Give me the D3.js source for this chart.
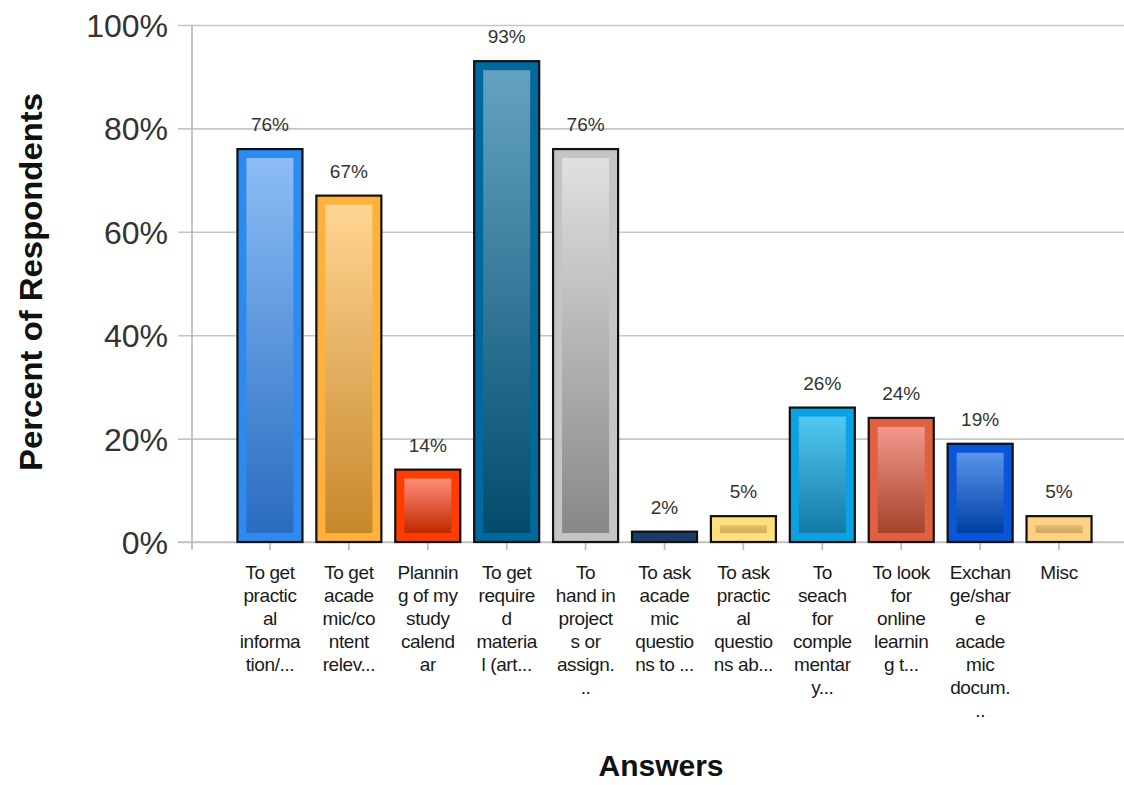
<!DOCTYPE html>
<html lang="en">
<head>
<meta charset="UTF-8">
<title>Percent of Respondents by Answer</title>
<script src="https://d3js.org/d3.v7.min.js"></script>
<style>
    body { margin: 0; background: #fff; }
    svg { display: block; font-family: "Liberation Sans", Arial, sans-serif; }
</style>
</head>
<body>
<svg width="1124" height="785"></svg>
<script>
// chart data
const categories = ["c1", "c2", "c3", "c4", "c5", "c6", "c7", "c8", "c9", "c10", "c11"];
const categoryLines = [
    ["To get", "practic", "al", "informa", "tion/..."],
    ["To get", "acade", "mic/co", "ntent", "relev..."],
    ["Plannin", "g of my", "study", "calend", "ar"],
    ["To get", "require", "d", "materia", "l (art..."],
    ["To", "hand in", "project", "s or", "assign.", ".."],
    ["To ask", "acade", "mic", "questio", "ns to ..."],
    ["To ask", "practic", "al", "questio", "ns ab..."],
    ["To", "seach", "for", "comple", "mentar", "y..."],
    ["To look", "for", "online", "learnin", "g t..."],
    ["Exchan", "ge/shar", "e", "acade", "mic", "docum.", ".."],
    ["Misc"]
];
const percents = [76, 67, 14, 93, 76, 2, 5, 26, 24, 19, 5];
const yTicks = [0, 20, 40, 60, 80, 100];

// bar colours: outer fill, inner gradient top, inner gradient bottom
const outerColors = ["#2b8bf0", "#ffb13c", "#ff3d00", "#00689a", "#c4c4c4", "#1c3d6b",
                     "#ffe07c", "#0aa2e2", "#e0613f", "#0a55d8", "#ffd283"];
const innerTop    = ["#8cbdf6", "#ffd593", "#ff8e7a", "#64a2c2", "#e0e0e0", "#2c5080",
                     "#e2c26c", "#52c8f2", "#f2998c", "#5a94ea", "#e0bc72"];
const innerBottom = ["#296cc0", "#c7882c", "#c02800", "#034b6c", "#888888", "#14304f",
                     "#d3ae58", "#137aa6", "#a6432c", "#0040a6", "#cfa65c"];

const svg = d3.select("svg"),
      W = +svg.attr("width");

const x = d3.scaleBand()
    .domain(categories)
    .range([230.5, 1098.5])
    .paddingInner(0.176)
    .paddingOuter(0.088);

const y = d3.scaleLinear().domain([0, 100]).range([542, 25]);

// gridlines
svg.append("g")
    .attr("transform", "translate(178,0)")
    .call(d3.axisLeft(y).tickValues(yTicks).tickSize(-(W - 178)).tickFormat(""))
    .call(g => g.select(".domain").remove())
    .call(g => g.selectAll("line").attr("stroke", "#c6c6c6").attr("stroke-width", 1.6));

// y axis labels
svg.append("g")
    .attr("transform", "translate(192,0)")
    .call(d3.axisLeft(y).tickValues(yTicks).tickSize(0).tickPadding(24).tickFormat(d => d + "%"))
    .call(g => g.select(".domain").remove())
    .call(g => g.selectAll("text")
        .attr("font-family", "'Liberation Sans', Arial, sans-serif")
        .attr("font-size", 32)
        .attr("fill", "#333")
        .attr("dy", "0.36em"));

// y axis line
svg.append("line")
    .attr("x1", 192).attr("x2", 192)
    .attr("y1", y(100)).attr("y2", y(0) + 8)
    .attr("stroke", "#b8b8b8").attr("stroke-width", 1.6);

// x axis
const xAxis = svg.append("g")
    .attr("transform", `translate(0,${y(0)})`)
    .call(d3.axisBottom(x).tickSize(8).tickPadding(12));
xAxis.select(".domain").remove();
xAxis.selectAll("line").attr("stroke", "#b8b8b8").attr("stroke-width", 1.6);
xAxis.selectAll(".tick text")
    .attr("font-family", "'Liberation Sans', Arial, sans-serif")
    .attr("font-size", 19)
    .attr("fill", "#1a1a1a")
    .attr("letter-spacing", -0.4)
    .attr("dy", null)
    .attr("y", 0)
    .text(null)
    .each(function(d, i) {
        const t = d3.select(this);
        categoryLines[categories.indexOf(d)].forEach((line, j) => {
            t.append("tspan").attr("x", 0).attr("y", 37 + j * 23).text(line);
        });
    });

svg.append("line")
    .attr("x1", 178).attr("x2", W)
    .attr("y1", y(0)).attr("y2", y(0))
    .attr("stroke", "#c0c0c0").attr("stroke-width", 1.6);

// gradients
const defs = svg.append("defs");
categories.forEach((c, i) => {
    const grad = defs.append("linearGradient")
        .attr("id", "grad" + i)
        .attr("x1", 0).attr("y1", 0).attr("x2", 0).attr("y2", 1);
    grad.append("stop").attr("offset", "0%").attr("stop-color", innerTop[i]);
    grad.append("stop").attr("offset", "100%").attr("stop-color", innerBottom[i]);
});

// bars
const bars = svg.append("g").selectAll("g")
    .data(categories)
    .join("g");

bars.append("rect")
    .attr("x", d => x(d))
    .attr("y", (d, i) => y(percents[i]))
    .attr("width", x.bandwidth())
    .attr("height", (d, i) => y(0) - y(percents[i]))
    .attr("fill", (d, i) => outerColors[i])
    .attr("stroke", "#111")
    .attr("stroke-width", 2.2);

const inset = 9;
bars.filter((d, i) => y(0) - y(percents[i]) > 2 * inset + 2)
    .append("rect")
    .attr("x", d => x(d) + inset)
    .attr("y", d => y(percents[categories.indexOf(d)]) + inset)
    .attr("width", x.bandwidth() - 2 * inset)
    .attr("height", d => y(0) - y(percents[categories.indexOf(d)]) - 2 * inset)
    .attr("fill", d => `url(#grad${categories.indexOf(d)})`);

// value labels
bars.append("text")
    .attr("x", d => x(d) + x.bandwidth() / 2)
    .attr("y", (d, i) => y(percents[i]) - 18)
    .attr("text-anchor", "middle")
    .attr("font-size", 19)
    .attr("fill", "#333")
    .text((d, i) => percents[i] + "%");

// axis titles
svg.append("text")
    .attr("transform", "translate(42,282) rotate(-90)")
    .attr("text-anchor", "middle")
    .attr("font-size", 32)
    .attr("font-weight", "bold")
    .attr("fill", "#111")
    .attr("textLength", 378)
    .attr("lengthAdjust", "spacingAndGlyphs")
    .text("Percent of Respondents");

svg.append("text")
    .attr("x", 661)
    .attr("y", 776)
    .attr("text-anchor", "middle")
    .attr("font-size", 30)
    .attr("font-weight", "bold")
    .attr("fill", "#111")
    .text("Answers");
</script>
</body>
</html>
